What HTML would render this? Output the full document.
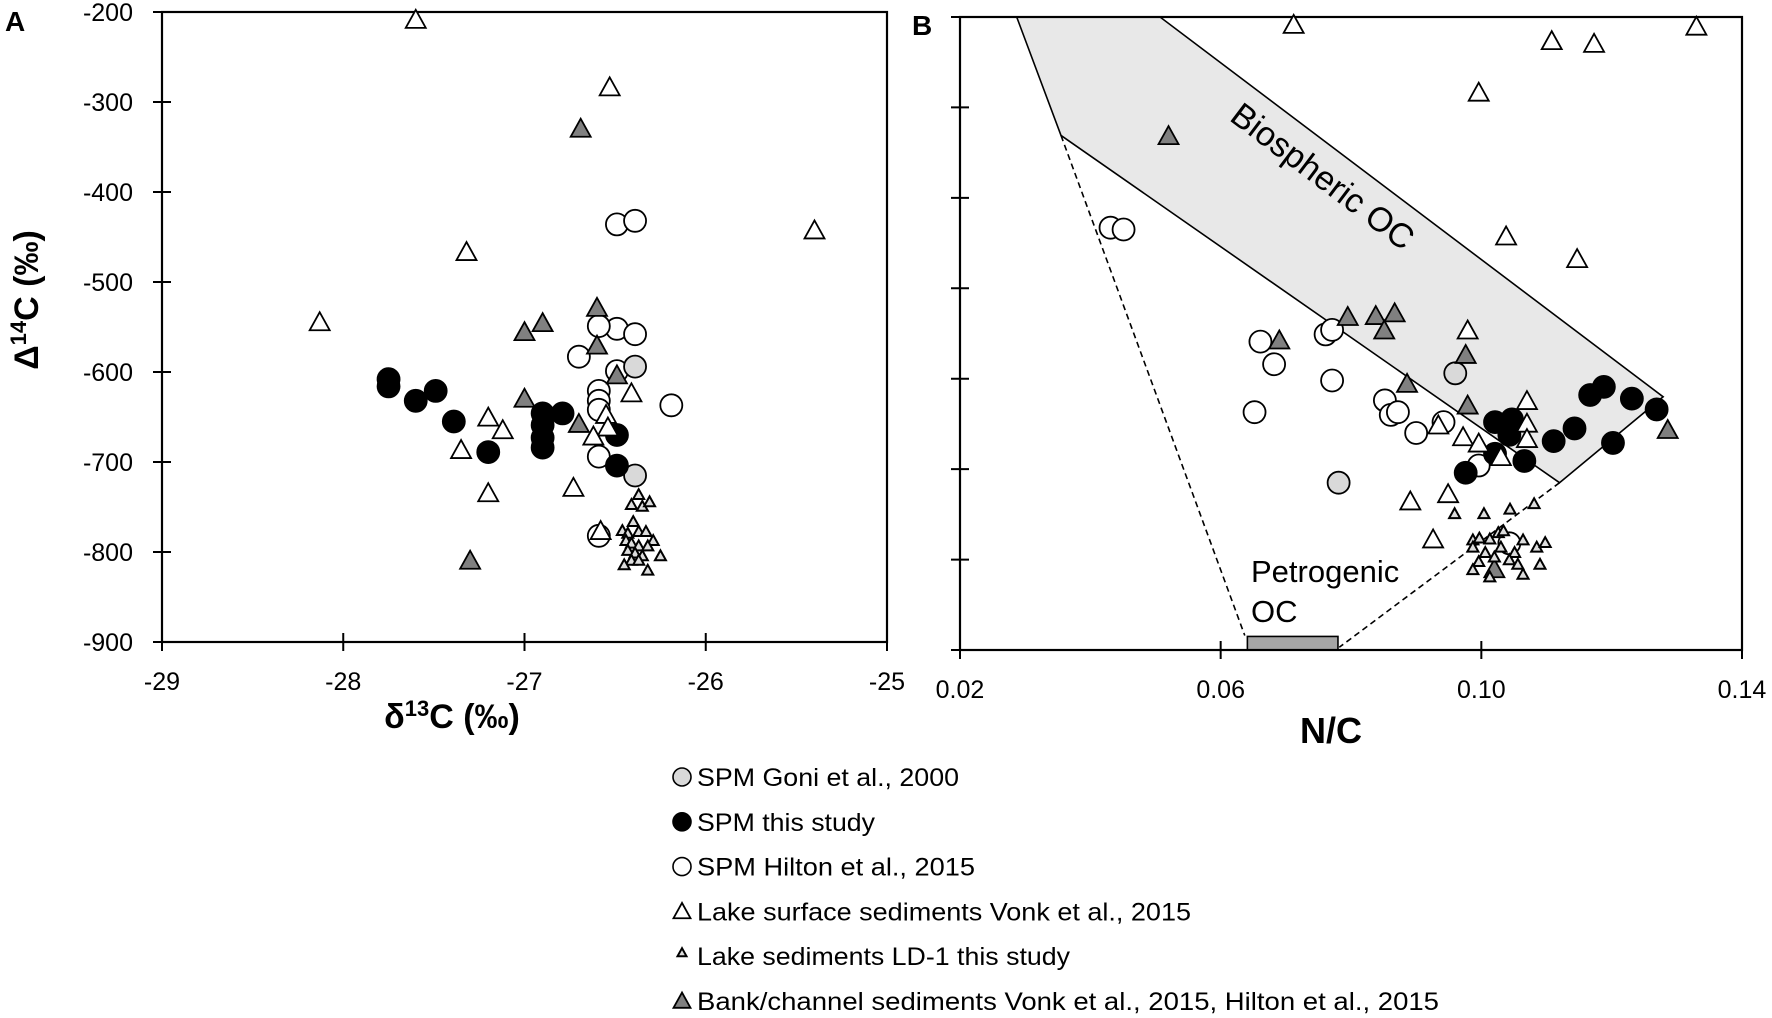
<!DOCTYPE html>
<html><head><meta charset="utf-8"><style>
html,body{margin:0;padding:0;background:#fff;}
svg{display:block;font-family:"Liberation Sans",sans-serif;}
</style></head><body>
<svg id="chart" width="1772" height="1018" viewBox="0 0 1772 1018" xmlns="http://www.w3.org/2000/svg"></svg>
<script>
// ---- Panel A data (x = d13C, y = D14C) ----
const aLakeX = [-27.60,-26.53,-27.32,-25.40,-28.13,-27.20,-27.12,-27.35,-27.20,-26.73,-26.41,-26.55,-26.54,-26.62,-26.58];
const aLakeY = [-210,-285,-468,-444,-546,-652,-666,-688,-736,-730,-625,-649,-663,-673,-778];
const aBankX = [-26.69,-26.60,-26.90,-27.00,-26.60,-26.49,-27.00,-26.70,-27.30];
const aBankY = [-331,-530,-547,-557,-572,-605,-631,-659,-811];
const aThisX = [-27.75,-27.75,-27.60,-27.49,-27.39,-27.20,-26.90,-26.90,-26.90,-26.90,-26.79,-26.49,-26.49];
const aThisY = [-608,-616,-632,-621,-655,-689,-646,-659,-673,-684,-646,-670,-704];
const aGoniX = [-26.39,-26.39];
const aGoniY = [-594,-715];
const aHiltonX = [-26.49,-26.39,-26.49,-26.39,-26.59,-26.70,-26.49,-26.59,-26.59,-26.59,-26.19,-26.59,-26.59];
const aHiltonY = [-436,-432,-552,-558,-549,-583,-599,-621,-632,-642,-637,-694,-782];
const aLdX = [-26.37,-26.41,-26.35,-26.31,-26.40,-26.46,-26.43,-26.37,-26.33,-26.29,-26.44,-26.41,-26.37,-26.32,-26.43,-26.39,-26.35,-26.41,-26.25,-26.45,-26.37,-26.32];
const aLdY = [-737,-748,-750,-745,-767,-777,-780,-778,-778,-788,-788,-791,-794,-794,-799,-802,-805,-810,-805,-815,-810,-821];
// ---- Panel B data (x = N/C, y = D14C) ----
const bLakeX = [0.0712,0.1108,0.1173,0.1330,0.0996,0.1038,0.1147,0.0979,0.1070,0.1070,0.1070,0.0934,0.0972,0.0996,0.1030,0.0891,0.0949,0.0926];
const bLakeY = [-210,-228,-231,-212,-285,-444,-469,-548,-626,-651,-668,-653,-666,-673,-688,-737,-729,-779];
const bBankX = [0.0520,0.0690,0.0795,0.0838,0.0867,0.0851,0.0976,0.0886,0.0979,0.1286,0.1020];
const bBankY = [-333,-559,-533,-532,-529,-548,-575,-607,-631,-658,-812];
const bThisX = [0.1167,0.1188,0.1231,0.1269,0.1143,0.1111,0.1202,0.1021,0.1047,0.1043,0.1021,0.1066,0.0976];
const bThisY = [-618,-609,-622,-634,-655,-669,-671,-648,-645,-662,-683,-691,-704];
const bGoniX = [0.0960,0.0781];
const bGoniY = [-594,-715];
const bHiltonX = [0.0431,0.0451,0.0661,0.0682,0.0761,0.0771,0.0771,0.0652,0.0852,0.0861,0.0872,0.0900,0.0942,0.0996,0.1043];
const bHiltonY = [-433,-435,-559,-584,-551,-546,-602,-637,-624,-640,-637,-660,-648,-696,-782];
const bLdX = [0.0959,0.1004,0.1044,0.1081,0.0987,0.0997,0.1013,0.1026,0.1034,0.1064,0.1085,0.1098,0.0987,0.1006,0.1030,0.1051,0.0996,0.1043,0.1056,0.1090,0.0987,0.1013,0.1064,0.1020];
const bLdY = [-750,-750,-745,-739,-779,-777,-778,-771,-769,-779,-787,-782,-787,-793,-787,-793,-803,-801,-806,-806,-812,-820,-817,-798];
// Biospheric polygon & petrogenic lines (data coords)
const bioPolyX = [0.0287,0.0507,0.1279,0.1120,0.0355];
const bioPolyY = [-200,-200,-620,-715,-331];
const dashLeftX = [0.0355,0.0637];
const dashLeftY = [-331,-884];
const dashRightX = [0.1120,0.0782];
const dashRightY = [-715,-897];
const petroX = [0.0641,0.0780];
const petroY = [-885,-900];
const aTicksX = [-29,-28,-27,-26,-25];
const aTickLabelsX = ["-29","-28","-27","-26","-25"];
const yTicks = [-200,-300,-400,-500,-600,-700,-800,-900];
const yTickLabels = ["-200","-300","-400","-500","-600","-700","-800","-900"];
const bTicksX = [0.02,0.06,0.10,0.14];
const bTickLabelsX = ["0.02","0.06","0.10","0.14"];

const NS = "http://www.w3.org/2000/svg";
const svg = document.getElementById('chart');
function el(tag, attrs, parent){
  const e = document.createElementNS(NS, tag);
  for (const k in attrs) e.setAttribute(k, attrs[k]);
  (parent||svg).appendChild(e);
  return e;
}
const A = {x0:162,x1:887,y0:12,y1:642,xmin:-29,xmax:-25,ymin:-900,ymax:-200};
const B = {x0:960,x1:1742,y0:17,y1:650,xmin:0.02,xmax:0.14,ymin:-900,ymax:-200};
function sx(P,v){return P.x0+(v-P.xmin)/(P.xmax-P.xmin)*(P.x1-P.x0);}
function sy(P,v){return P.y1-(v-P.ymin)/(P.ymax-P.ymin)*(P.y1-P.y0);}

function circle(g,x,y,fill){
  return el('circle',{cx:x,cy:y,r:11,fill:fill,stroke:'#000','stroke-width':1.8},g);
}
function tri(g,x,y,fill,s){
  const h=s*0.9;
  return el('polygon',{points:`${x},${y-h*0.62} ${x-s/2},${y+h*0.38} ${x+s/2},${y+h*0.38}`,fill:fill,stroke:'#000','stroke-width':s>12?1.8:2},g);
}

function panel(P, name, tx, tl, ylabels, data, extra){
  const g = el('g',{});
  
  
  if (extra) extra(g);
  const box = el('rect',{x:P.x0,y:P.y0,width:P.x1-P.x0,height:P.y1-P.y0,fill:'none',stroke:'#000','stroke-width':2.2},g);
  
  
  yTicks.forEach((v,i)=>{
    const y=sy(P,v);
    const t=el('line',{x1:P.x0-9,x2:P.x0+9,y1:y,y2:y,stroke:'#000','stroke-width':2},g);
    
    
    if (ylabels){
      const lb=el('text',{x:P.x0-29,y:y+9,'text-anchor':'end','font-size':25,fill:'#000'},g);
      lb.textContent=yTickLabels[i];
      
      
    }
  });
  tx.forEach((v,i)=>{
    const x=sx(P,v);
    const t=el('line',{x1:x,x2:x,y1:P.y1-9,y2:P.y1+9,stroke:'#000','stroke-width':2},g);
    
    
    const lb=el('text',{x:x,y:P.y1+48,'text-anchor':'middle','font-size':25,fill:'#000'},g);
    lb.textContent=tl[i];
    
    
  });
  const mg = el('g',{},g);
  
  
  data.hX.forEach((v,i)=>{const m=circle(mg,sx(P,v),sy(P,data.hY[i]),'#fff');
    
    });
  data.gX.forEach((v,i)=>{const m=circle(mg,sx(P,v),sy(P,data.gY[i]),'#d9d9d9');
    
    });
  data.tX.forEach((v,i)=>{const m=circle(mg,sx(P,v),sy(P,data.tY[i]),'#000');
    
    });
  data.lX.forEach((v,i)=>{const m=tri(mg,sx(P,v),sy(P,data.lY[i]),'#fff',20);
    
    });
  data.bX.forEach((v,i)=>{const m=tri(mg,sx(P,v),sy(P,data.bY[i]),'#808080',20);
    
    });
  data.dX.forEach((v,i)=>{const m=tri(mg,sx(P,v),sy(P,data.dY[i]),'#ddd',11);
    
    });
}

panel(A,'panel-a',aTicksX,aTickLabelsX,true,
  {hX:aHiltonX,hY:aHiltonY,gX:aGoniX,gY:aGoniY,tX:aThisX,tY:aThisY,lX:aLakeX,lY:aLakeY,bX:aBankX,bY:aBankY,dX:aLdX,dY:aLdY});

panel(B,'panel-b',bTicksX,bTickLabelsX,false,
  {hX:bHiltonX,hY:bHiltonY,gX:bGoniX,gY:bGoniY,tX:bThisX,tY:bThisY,lX:bLakeX,lY:bLakeY,bX:bBankX,bY:bBankY,dX:bLdX,dY:bLdY},
  function(g){
    const pts = bioPolyX.map((v,i)=>sx(B,v)+','+sy(B,bioPolyY[i])).join(' ');
    const poly = el('polygon',{points:pts,fill:'#e8e8e8',stroke:'#000','stroke-width':1.6},g);
    
    
    const d1 = el('line',{x1:sx(B,dashLeftX[0]),y1:sy(B,dashLeftY[0]),x2:sx(B,dashLeftX[1]),y2:sy(B,dashLeftY[1]),stroke:'#000','stroke-width':1.6,'stroke-dasharray':'6,4'},g);
    
    
    const d2 = el('line',{x1:sx(B,dashRightX[0]),y1:sy(B,dashRightY[0]),x2:sx(B,dashRightX[1]),y2:sy(B,dashRightY[1]),stroke:'#000','stroke-width':1.6,'stroke-dasharray':'6,4'},g);
    
    
    const r = el('rect',{x:sx(B,petroX[0]),y:sy(B,petroY[0]),width:sx(B,petroX[1])-sx(B,petroX[0]),height:sy(B,petroY[1])-sy(B,petroY[0]),fill:'#a6a6a6',stroke:'#000','stroke-width':1.6},g);
    
    
    const bt = el('text',{x:1323,y:188,'text-anchor':'middle','font-size':34,fill:'#000',transform:'rotate(37 1323 176)'},g);
    bt.textContent='Biospheric OC';
    
    
    const p1 = el('text',{x:1251,y:582,'font-size':31,fill:'#000'},g);
    p1.textContent='Petrogenic';
    
    
    const p2 = el('text',{x:1251,y:622,'font-size':31,fill:'#000'},g);
    p2.textContent='OC';
    
    
  });

let t;
t=el('text',{x:5,y:31,'font-size':28,'font-weight':'bold'}); t.textContent='A';
 
t=el('text',{x:912,y:35,'font-size':28,'font-weight':'bold'}); t.textContent='B';
 
t=el('text',{x:452,y:728,'text-anchor':'middle','font-size':34,'font-weight':'bold'});
t.innerHTML='δ<tspan dy="-12" font-size="22">13</tspan><tspan dy="12">C (‰)</tspan>';
 
t=el('text',{x:0,y:0,'text-anchor':'middle','font-size':34,'font-weight':'bold',transform:'translate(38 300) rotate(-90)'});
t.innerHTML='Δ<tspan dy="-12" font-size="22">14</tspan><tspan dy="12">C (‰)</tspan>';
 
t=el('text',{x:1331,y:743,'text-anchor':'middle','font-size':36,'font-weight':'bold'}); t.textContent='N/C';
 

const legLabels = ["SPM Goni et al., 2000","SPM this study","SPM Hilton et al., 2015","Lake surface sediments Vonk et al., 2015","Lake sediments LD-1 this study","Bank/channel sediments Vonk et al., 2015, Hilton et al., 2015"];
const legWidths = [262,178,278,494,373,742];
const lg = el('g',{});
 
legLabels.forEach((s,i)=>{
  const y = 777 + i*44.8;
  const e = el('g',{},lg);
   
  let m;
  if (i===0) m=el('circle',{cx:682,cy:y,r:9,fill:'#d9d9d9',stroke:'#000','stroke-width':1.6},e);
  if (i===1) m=el('circle',{cx:682,cy:y,r:9,fill:'#000',stroke:'#000','stroke-width':1.6},e);
  if (i===2) m=el('circle',{cx:682,cy:y,r:9,fill:'#fff',stroke:'#000','stroke-width':1.6},e);
  if (i===3) m=tri(e,682,y+1,'#fff',17);
  if (i===4) m=tri(e,682,y-3,'#ddd',9);
  if (i===5) m=tri(e,682,y+1,'#808080',17);
   
  const tx = el('text',{x:697,y:y+9,'font-size':25,textLength:legWidths[i],lengthAdjust:'spacingAndGlyphs'},e);
  tx.textContent=s;
   
});
</script>
</body></html>
